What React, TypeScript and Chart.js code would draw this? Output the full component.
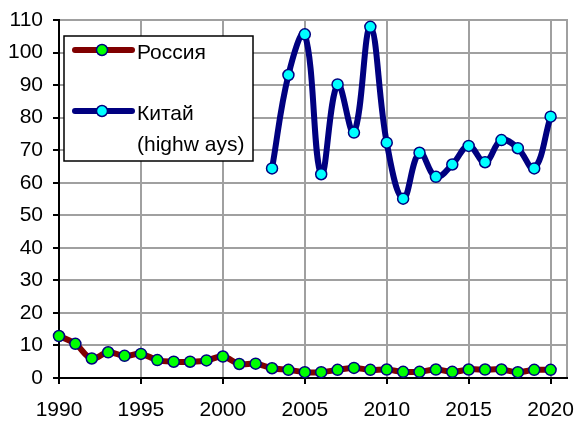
import React, { useEffect, useRef } from "react";
import { Chart, registerables } from "chart.js";

Chart.register(...registerables);

const russiaYears = [1990,1991,1992,1993,1994,1995,1996,1997,1998,1999,2000,2001,2002,2003,2004,2005,2006,2007,2008,2009,2010,2011,2012,2013,2014,2015,2016,2017,2018,2019,2020];
const russiaValues = [12.9,10.5,6.0,7.9,6.8,7.4,5.5,5.0,5.0,5.4,6.6,4.3,4.4,3.0,2.5,1.8,1.8,2.5,3.1,2.5,2.6,1.9,1.9,2.6,1.9,2.6,2.6,2.6,1.8,2.5,2.5];
const chinaYears = [2003,2004,2005,2006,2007,2008,2009,2010,2011,2012,2013,2014,2015,2016,2017,2018,2019,2020];
const chinaValues = [64.4,93.1,105.6,62.6,90.2,75.4,107.9,72.3,55.1,69.2,61.8,65.6,71.3,66.3,73.1,70.6,64.4,80.3];
const xTicks = [1990, 1995, 2000, 2005, 2010, 2015, 2020];
const yTicks = [0, 10, 20, 30, 40, 50, 60, 70, 80, 90, 100, 110];
const seriesNames = ["Россия", "Китай"];
const chinaNote = "(highw ays)";

const FONT = "'Liberation Sans', Arial, sans-serif";
const GRID = "#a0a0a0";

export default function App() {
  const ref = useRef<HTMLCanvasElement | null>(null);

  useEffect(() => {
    if (!ref.current) return;
    const legendPlugin = {
      id: "boxLegend",
      beforeDraw(chart: any) {
        const { ctx, chartArea: ca } = chart;
        ctx.save();
        ctx.strokeStyle = GRID;
        ctx.lineWidth = 2;
        ctx.beginPath();
        ctx.moveTo(ca.left, ca.top);
        ctx.lineTo(ca.right, ca.top);
        ctx.lineTo(ca.right, ca.bottom);
        ctx.stroke();
        ctx.restore();
      },
      afterDatasetsDraw(chart: any) {
        const { ctx, chartArea: ca } = chart;
        const bx = ca.left + 5, by = ca.top + 16, bw = 189, bh = 125;
        ctx.save();
        ctx.fillStyle = "#fff";
        ctx.fillRect(bx, by, bw, bh);
        ctx.strokeStyle = "#000";
        ctx.lineWidth = 1.5;
        ctx.strokeRect(bx, by, bw, bh);
        const items = [
          { y: by + 14, color: "#800000", fill: "#00ff00", lines: [seriesNames[0]] },
          { y: by + 75, color: "#000080", fill: "#00ffff", lines: [seriesNames[1], chinaNote] },
        ];
        ctx.font = `21px ${FONT}`;
        ctx.textBaseline = "middle";
        ctx.textAlign = "left";
        for (const it of items) {
          ctx.strokeStyle = it.color;
          ctx.lineWidth = 6;
          ctx.lineCap = "round";
          ctx.beginPath();
          ctx.moveTo(bx + 11, it.y);
          ctx.lineTo(bx + 68, it.y);
          ctx.stroke();
          ctx.beginPath();
          ctx.arc(bx + 38, it.y, 5.5, 0, Math.PI * 2);
          ctx.fillStyle = it.fill;
          ctx.fill();
          ctx.lineWidth = 1.5;
          ctx.strokeStyle = "#000080";
          ctx.stroke();
          ctx.fillStyle = "#000";
          it.lines.forEach((t, i) => ctx.fillText(t, bx + 73, it.y + 3 + i * 31));
        }
        ctx.restore();
      },
    };

    const chart = new Chart(ref.current, {
      type: "line",
      data: {
        datasets: [
          {
            label: seriesNames[0],
            data: russiaYears.map((x, i) => ({ x, y: russiaValues[i] })),
            borderColor: "#800000",
            borderWidth: 6,
            backgroundColor: "#00ff00",
            pointBackgroundColor: "#00ff00",
            pointBorderColor: "#000080",
            pointBorderWidth: 1.5,
            pointRadius: 5.5,
            tension: 0.4,
          },
          {
            label: seriesNames[1],
            data: chinaYears.map((x, i) => ({ x, y: chinaValues[i] })),
            borderColor: "#000080",
            borderWidth: 6,
            backgroundColor: "#00ffff",
            pointBackgroundColor: "#00ffff",
            pointBorderColor: "#000080",
            pointBorderWidth: 1.5,
            pointRadius: 5.5,
            tension: 0.4,
          },
        ],
      },
      options: {
        animation: false,
        responsive: false,
        clip: false as any,
        layout: { padding: { top: 20, right: 7, left: 0, bottom: 0 } },
        plugins: { legend: { display: false }, tooltip: { enabled: false } },
        scales: {
          x: {
            type: "linear",
            min: 1990,
            max: 2021,
            afterFit: (s: any) => { s.height = 43; s.paddingLeft = 0; s.paddingRight = 0; },
            afterBuildTicks: (s: any) => { s.ticks = xTicks.map((v) => ({ value: v })); },
            ticks: {
              includeBounds: false,
              stepSize: 5,
              maxRotation: 0,
              autoSkip: false,
              padding: 14,
              color: "#000",
              font: { family: FONT, size: 21 },
              callback: (v: any) => String(v),
            },
            grid: {
              color: (c: any) => (c.tick && c.tick.value === 1990 ? "rgba(0,0,0,0)" : GRID),
              lineWidth: 2,
              tickColor: "#000",
              tickLength: 6,
              tickWidth: 2,
            },
            border: { color: "#000", width: 2 },
          },
          y: {
            min: 0,
            max: 110,
            afterFit: (s: any) => { s.width = 59; s.paddingTop = 0; s.paddingBottom = 0; },
            afterBuildTicks: (s: any) => { s.ticks = yTicks.map((v) => ({ value: v })); },
            ticks: {
              stepSize: 10,
              padding: 10,
              color: "#000",
              font: { family: FONT, size: 21 },
            },
            grid: {
              color: (c: any) => (c.tick && c.tick.value === 0 ? "rgba(0,0,0,0)" : GRID),
              lineWidth: 2,
              tickColor: "#000",
              tickLength: 6,
              tickWidth: 2,
            },
            border: { color: "#000", width: 2 },
          },
        },
      },
      plugins: [legendPlugin],
    } as any);
    return () => chart.destroy();
  }, []);

  return (
    <div style={{ position: "absolute", left: 0, top: 0, width: 574, height: 421, background: "#fff" }}>
      <canvas ref={ref} width={574} height={421} />
    </div>
  );
}
